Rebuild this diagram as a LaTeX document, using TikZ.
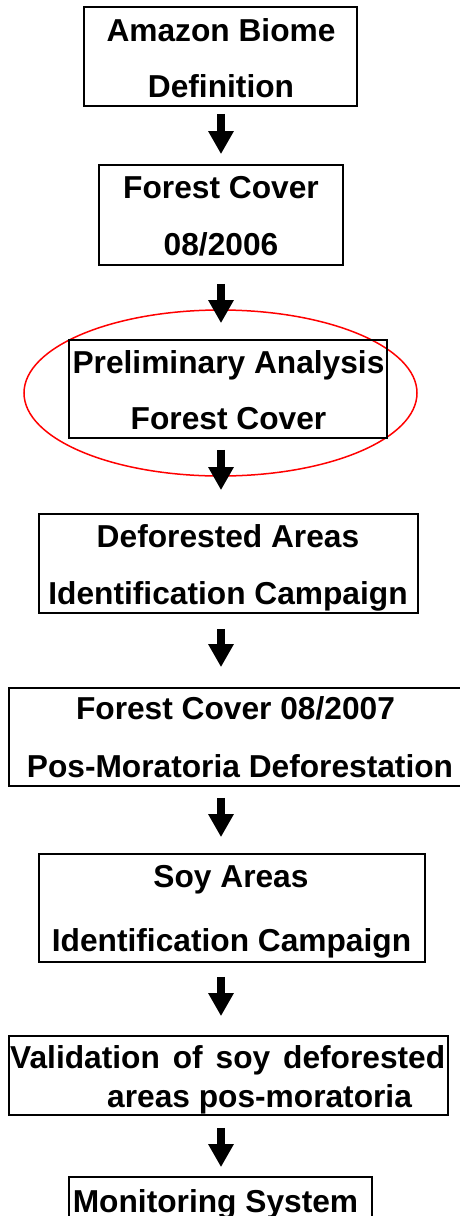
\documentclass[tikz,border=0pt]{standalone}
\usepackage{fontspec}
\setmainfont{Liberation Sans}
\usetikzlibrary{arrows.meta,shapes.geometric}
\begin{document}
\begin{tikzpicture}[x=1pt,y=-1pt,
  box/.style={draw=black,line width=1.7pt,rectangle,inner sep=0pt},
  txt/.style={inner sep=0pt,anchor=base,font=\fontsize{31.7}{38}\selectfont\bfseries},
  txtw/.style={txt,anchor=base west},
  arr/.style={line width=8pt,-{Triangle[width=24pt,length=23pt]}},
  oval/.style={draw=red,line width=1.5pt,ellipse,inner sep=0pt}]
\clip (0,0) rectangle (460,1216);
\fill[white] (0,0) rectangle (460,1216);
\coordinate (ax) at (221,0);
% highlight ellipse
\node[oval,minimum width=393pt,minimum height=166pt] (ov) at (220.5,393) {};
% boxes
\node[box,minimum width=273pt,minimum height=99pt] (b1) at (220.5,56.5) {};
\node[box,minimum width=244pt,minimum height=100pt] (b2) at (221,215) {};
\node[box,minimum width=318pt,minimum height=98pt] (b3) at (228,389) {};
\node[box,minimum width=379pt,minimum height=99pt] (b4) at (228.5,563.5) {};
\node[box,minimum width=463pt,minimum height=98pt] (b5) at (240.5,737) {};
\node[box,minimum width=386pt,minimum height=108pt] (b6) at (232,908) {};
\node[box,minimum width=439pt,minimum height=79pt] (b7) at (228.5,1075.5) {};
\node[box,minimum width=303pt,minimum height=73pt] (b8) at (220.5,1213.5) {};
% texts
\node[txt] (t1a) at (221,41) {Amazon Biome};
\node[txt] (t1b) at (221,97) {Definition};
\node[txt] (t2a) at (221,198) {Forest Cover};
\node[txt] (t2b) at (221,255) {08/2006};
\node[txt] (t3a) at (228.5,373) {Preliminary Analysis};
\node[txt] (t3b) at (228.5,429) {Forest Cover};
\node[txt] (t4a) at (228,547) {Deforested Areas};
\node[txt] (t4b) at (228,604) {Identification Campaign};
\node[txt] (t5a) at (235.5,719) {Forest Cover 08/2007};
\node[txt] (t5b) at (240,777) {Pos-Moratoria Deforestation};
\node[txt] (t6a) at (231,887) {Soy Areas};
\node[txt] (t6b) at (231.5,951) {Identification Campaign};
\node[txtw] (t7a) at (10,1068) {\makebox[435pt][s]{Validation of soy deforested}};
\node[txtw] (t7b) at (107,1107) {areas pos-moratoria};
\node[txt] (t8a) at (215.5,1212) {Monitoring System};
% arrows
\draw[arr,shorten <=7pt,shorten >=10pt] (b1.south -| ax) -- (b2.north -| ax);
\draw[arr,shorten <=18pt,shorten >=16pt] (b2.south -| ax) -- (b3.north -| ax);
\draw[arr,shorten <=11pt,shorten >=23pt] (b3.south -| ax) -- (b4.north -| ax);
\draw[arr,shorten <=15pt,shorten >=20pt] (b4.south -| ax) -- (b5.north -| ax);
\draw[arr,shorten <=11pt,shorten >=16pt] (b5.south -| ax) -- (b6.north -| ax);
\draw[arr,shorten <=14pt,shorten >=19pt] (b6.south -| ax) -- (b7.north -| ax);
\draw[arr,shorten <=12pt,shorten >=9pt] (b7.south -| ax) -- (b8.north -| ax);
\end{tikzpicture}
\end{document}
